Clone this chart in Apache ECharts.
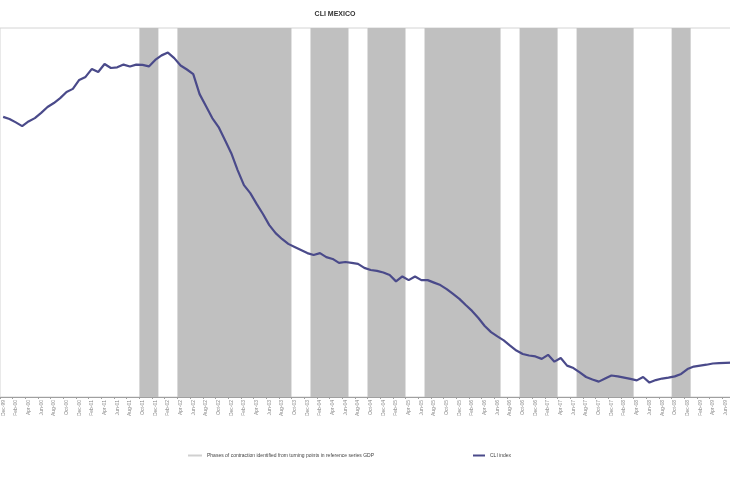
<!DOCTYPE html>
<html>
<head>
<meta charset="utf-8">
<script src="https://cdn.jsdelivr.net/npm/echarts@6/dist/echarts.min.js"></script>
<style>html,body{margin:0;padding:0;background:#fff;overflow:hidden;width:730px;height:487px;}#c{width:735px;height:487px;}</style>
</head>
<body>
<div id="c"></div>
<script>
// Monthly categories: Dec-1999 .. Jul-2009 (116 months)
var startYear = 1999, startMonth = 11; // December
var monthNames = ['Jan','Feb','Mar','Apr','May','Jun','Jul','Aug','Sep','Oct','Nov','Dec'];
var nMonths = 116;
var categories = [];
for (var i = 0; i < nMonths; i++) {
  var m = (startMonth + i) % 12;
  var y = startYear + Math.floor((startMonth + i) / 12);
  categories.push(monthNames[m] + '-' + String(y).slice(2));
}

// CLI index values
var cliValues = [
  101.11,101.04,100.93,100.81,100.96,101.07,101.24,101.43,101.56,101.72,
  101.92,102.02,102.31,102.41,102.67,102.57,102.83,102.70,102.72,102.81,
  102.75,102.81,102.80,102.75,102.96,103.11,103.20,103.02,102.78,102.65,
  102.50,101.85,101.46,101.07,100.78,100.36,99.93,99.38,98.89,98.63,
  98.28,97.95,97.59,97.33,97.14,96.98,96.88,96.78,96.68,96.62,
  96.68,96.55,96.49,96.36,96.39,96.36,96.33,96.20,96.13,96.10,
  96.05,95.97,95.76,95.92,95.80,95.92,95.80,95.80,95.72,95.64,
  95.51,95.35,95.19,94.99,94.80,94.57,94.31,94.11,93.97,93.84,
  93.67,93.51,93.40,93.35,93.32,93.24,93.37,93.15,93.27,93.02,
  92.94,92.80,92.65,92.57,92.50,92.60,92.70,92.67,92.63,92.59,
  92.54,92.65,92.47,92.55,92.60,92.63,92.67,92.75,92.91,92.99,
  93.02,93.05,93.09,93.10,93.11,93.12
];

// Contraction phases: [first month index, last month index]
var contractionPhases = [[22,24],[28,45],[49,54],[58,63],[67,78],[82,87],[91,99],[106,108]];

var seriesNames = ['Phases of contraction identified from turning points in reference series GDP', 'CLI index'];
var titleText = 'CLI MEXICO';
var phaseColor = '#c0c0c0';

var chart = echarts.init(document.getElementById('c'), null, {renderer: 'canvas'});
chart.setOption({
  animation: false,
  backgroundColor: '#ffffff',
  title: {
    text: titleText,
    left: 330, top: 6, textAlign: 'center',
    textStyle: {fontSize: 7, fontWeight: 'bold', color: '#333', fontFamily: 'Liberation Sans'}
  },
  legend: [{
    data: [{name: seriesNames[0], itemStyle: {color: '#d0d0d0'}}],
    left: 183, top: 448,
    itemWidth: 14, itemHeight: 2, icon: 'rect',
    textStyle: {fontSize: 5, color: '#444', fontFamily: 'Liberation Sans'}
  }, {
    data: [seriesNames[1]],
    left: 468, top: 448,
    itemWidth: 12, itemHeight: 2, icon: 'rect',
    textStyle: {fontSize: 5, color: '#444', fontFamily: 'Liberation Sans'}
  }],
  grid: {
    left: 0, right: 0, top: 28, bottom: 90,
    show: true, borderColor: '#d4d4d4', borderWidth: 1
  },
  xAxis: {
    type: 'category',
    data: categories,
    boundaryGap: true,
    axisLine: {lineStyle: {color: '#a0a0a0', width: 1}},
    axisTick: {show: true, interval: 1, length: 2, lineStyle: {color: '#a0a0a0'}},
    axisLabel: {
      interval: 1, rotate: 90, fontSize: 5, color: '#888',
      fontFamily: 'Liberation Sans', margin: 3
    },
    splitLine: {show: false}
  },
  yAxis: [{
    type: 'value', min: 92, max: 104, show: false,
    splitLine: {show: false}
  }, {
    type: 'value', min: 0, max: 1, show: false,
    splitLine: {show: false}
  }],
  series: [{
    name: seriesNames[0],
    type: 'custom',
    yAxisIndex: 1,
    data: contractionPhases,
    encode: {x: [0, 1]},
    itemStyle: {color: phaseColor},
    renderItem: function (params, api) {
      var s = api.coord([api.value(0), 1]);
      var e = api.coord([api.value(1), 0]);
      var w = api.size([1, 0])[0];
      return {
        type: 'rect',
        shape: {x: s[0] - w / 2, y: s[1], width: e[0] - s[0] + w, height: e[1] - s[1]},
        style: {fill: phaseColor}
      };
    },
    emphasis: {disabled: true},
    z: 1
  }, {
    name: seriesNames[1],
    type: 'line',
    yAxisIndex: 0,
    data: cliValues,
    symbol: 'none',
    lineStyle: {color: '#4a4a8a', width: 2.2},
    itemStyle: {color: '#4a4a8a'},
    z: 3
  }]
});
</script>
</body>
</html>
